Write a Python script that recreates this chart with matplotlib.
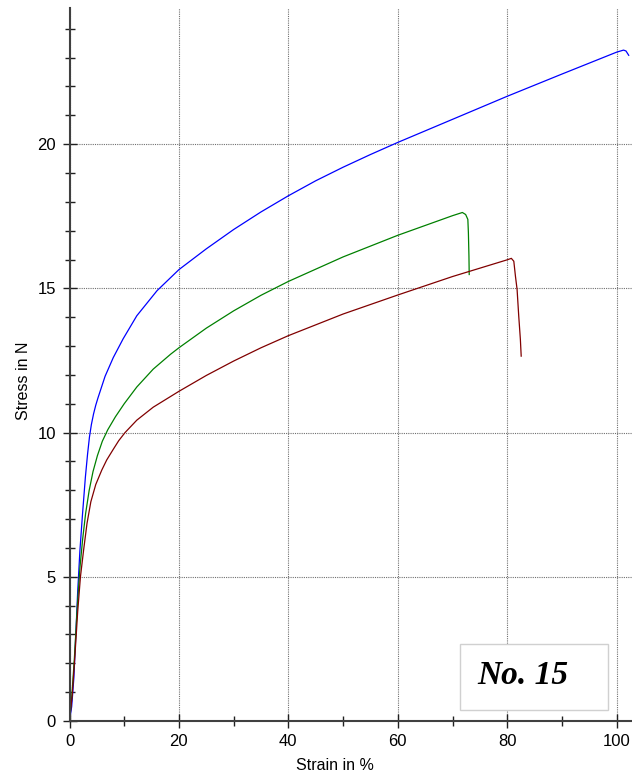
import matplotlib
matplotlib.use("Agg")
import matplotlib.pyplot as plt
from matplotlib.patches import Rectangle
from matplotlib.ticker import MultipleLocator

# Tensile test curves (strain in %, stress in N)
strain_blue = [0, 0.4, 0.8, 1.2, 1.5, 1.9, 2.35, 2.9, 3.3, 3.65, 4.0, 4.4, 4.8, 5.2, 6.5,
               8.0, 9.8, 12.3, 16.0, 20, 25, 30, 35, 40, 45, 50, 55, 60, 70, 80,
               90, 100, 101.25, 101.7, 102.2]
stress_blue = [0, 0.5, 1.5, 3.2, 4.5, 5.9, 7.1, 8.45, 9.25, 9.85, 10.28, 10.65, 10.95, 11.2, 11.95,
               12.6, 13.25, 14.05, 14.92, 15.65, 16.37, 17.04, 17.65, 18.21, 18.73, 19.2,
               19.64, 20.06, 20.86, 21.66, 22.43, 23.19, 23.26, 23.23, 23.08]

strain_green = [0, 0.4, 0.9, 1.4, 1.9, 2.4, 2.95, 3.6, 4.3, 5.1, 6.0, 7.0, 8.4, 10.0,
                12.3, 15.3, 18.5, 20, 25, 30, 35, 40, 50, 60, 70, 71.8, 72.4,
                72.8, 72.9, 73.0, 73.05]
stress_green = [0, 0.8, 2.2, 3.9, 5.3, 6.3, 7.2, 8.0, 8.65, 9.2, 9.7, 10.1, 10.55, 11.0,
                11.58, 12.2, 12.72, 12.94, 13.62, 14.22, 14.76, 15.24, 16.09, 16.84, 17.52,
                17.63, 17.56, 17.39, 16.93, 16.12, 15.48]

strain_red = [0, 0.5, 1.0, 1.5, 2.0, 2.6, 3.2, 3.9, 4.8, 5.9, 6.8, 8.0, 9.0, 10.15, 12.3,
              15.3, 20, 25, 30, 35, 40, 50, 60, 70, 80, 80.75, 81.2, 81.5, 81.8,
              82.1, 82.4, 82.55]
stress_red = [0, 0.9, 2.3, 3.8, 5.0, 5.96, 6.85, 7.6, 8.2, 8.7, 9.05, 9.42, 9.72, 10.0, 10.43,
              10.88, 11.43, 11.98, 12.48, 12.94, 13.36, 14.11, 14.77, 15.41, 15.99, 16.04,
              15.94, 15.42, 14.96, 14.04, 13.23, 12.65]

x_ticks = [0, 20, 40, 60, 80, 100]
y_ticks = [0, 5, 10, 15, 20]
specimen_label = "No. 15"

plt.rcParams['font.family'] = ['Liberation Sans', 'DejaVu Sans']

fig = plt.figure(figsize=(6.32, 7.79), dpi=100)
ax = fig.add_axes([69.5 / 632, 1 - 721 / 779, 1 - 69.5 / 632, (721 - 8) / 779])

ax.plot(strain_blue, stress_blue, color='#0000ff', lw=0.9)
ax.plot(strain_green, stress_green, color='#008000', lw=0.9)
ax.plot(strain_red, stress_red, color='#800000', lw=0.9)

ax.set_xlim(0, 102.8)
ax.set_ylim(0, 24.72)
ax.set_xticks(x_ticks)
ax.set_yticks(y_ticks)
ax.xaxis.set_minor_locator(MultipleLocator(10))
ax.yaxis.set_minor_locator(MultipleLocator(1))

ax.grid(True, which='major', color='#707070', lw=0.8, linestyle=(0, (1, 1)))
ax.set_axisbelow(True)

for s in ('top', 'right'):
    ax.spines[s].set_visible(False)
for s in ('left', 'bottom'):
    ax.spines[s].set_color('#404040')
    ax.spines[s].set_linewidth(1.5)

ax.tick_params(which='major', direction='inout', length=10, width=1.0,
               color='#202020', labelsize=12, pad=4.7)
ax.tick_params(which='minor', direction='inout', length=7, width=1.0, color='#202020')

ax.set_xlabel("Strain in %", fontsize=11.5)
ax.set_ylabel("Stress in N", fontsize=11.5)
ax.xaxis.set_label_coords((335 - 69.5) / (632 - 69.5), -(758 - 721) / (721 - 8))
ax.yaxis.set_label_coords(-(69.5 - 31) / (632 - 69.5), (721 - 381) / (721 - 8))

# Specimen tag in the lower right corner
fig.patches.append(Rectangle((460 / 632, 1 - 710 / 779), 148 / 632, 66 / 779,
                             transform=fig.transFigure, facecolor='white',
                             edgecolor='#d0d0d0', lw=1.0, zorder=5))
fig.text(523 / 632, 1 - 675 / 779, specimen_label, ha='center', va='center',
         fontsize=24, fontweight='bold', fontstyle='italic',
         family=['Liberation Serif', 'DejaVu Serif'], zorder=6)

fig.savefig("out.png", dpi=100)
